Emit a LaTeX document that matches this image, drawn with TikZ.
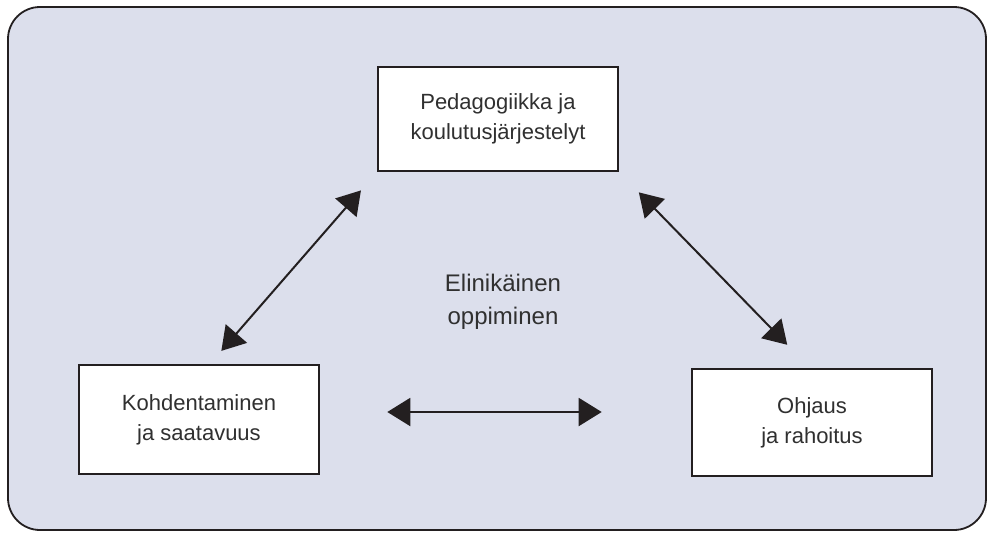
\documentclass[tikz,border=0pt]{standalone}
\usepackage{fontspec}
\setmainfont{Liberation Sans}
\usepackage{xcolor}
\usetikzlibrary{
    calc,
    arrows.meta
}
\definecolor{panelfill}{RGB}{220,223,236}
\definecolor{inkline}{RGB}{35,31,32}
\definecolor{labelgray}{RGB}{48,48,48}
\tikzset{
    areabox/.style={%
        draw=inkline, line width=2.6pt, fill=white,
        minimum width=240pt, align=center, text=labelgray,
        font=\fontsize{22}{30}\selectfont
    },
    twoway/.style={%
        {Triangle[length=23pt,width=28pt]}-{Triangle[length=23pt,width=28pt]},
        line width=2pt, draw=inkline
    }
}

\begin{document}
\begin{tikzpicture}[x=1pt, y=-1pt]
        \useasboundingbox (0,0) rectangle (988,533);
        \draw[draw=inkline, fill=panelfill, line width=1.8pt, rounded corners=32pt] (8,7) rectangle (986,530);

        \draw (498,119) node[areabox, minimum height=104pt](ped){Pedagogiikka ja\\koulutusjärjestelyt};
        \draw (199,419.5) node[areabox, minimum height=109pt](kohd){Kohdentaminen\\ja saatavuus};
        \draw (812,422.5) node[areabox, minimum height=107pt](ohj){Ohjaus\\ja rahoitus};

        \draw (503,302) node[align=center, text=labelgray, font=\fontsize{24}{33}\selectfont](elin){Elinikäinen\\oppiminen};

        \draw[twoway, shorten <=17pt, shorten >=24pt] ($(kohd.north west)!0.546!(kohd.north east)$) to (ped.south west);
        \draw[twoway, shorten <=28pt, shorten >=32pt] (ped.south east) to ($(ohj.north west)!0.49!(ohj.north east)$);
        \draw[twoway, shorten <=67pt, shorten >=89pt] ([yshift=7.5pt]kohd.east) to ([yshift=7.5pt]kohd.east -| ohj.west);
    \end{tikzpicture}
\end{document}
